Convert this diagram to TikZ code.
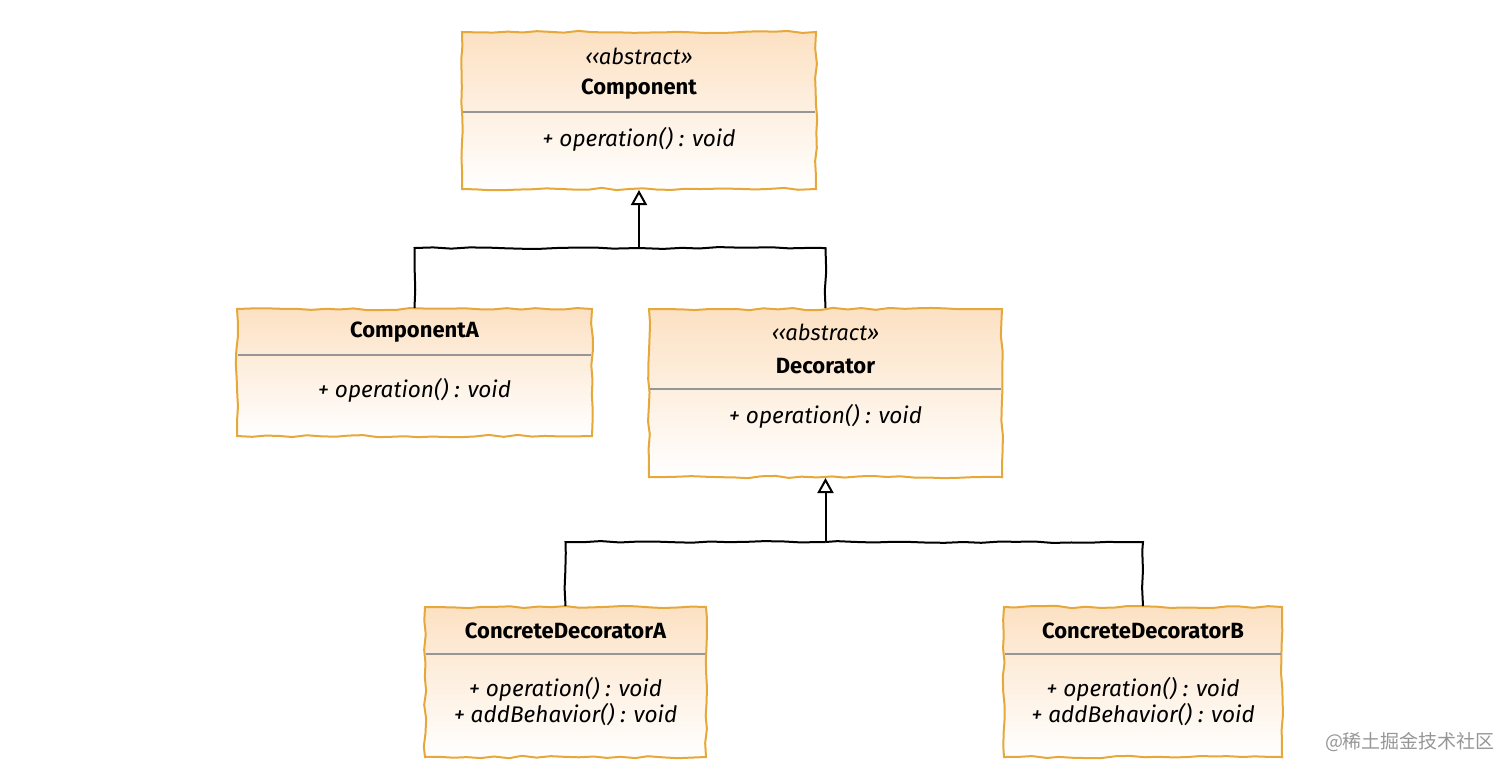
\documentclass[tikz,border=0pt]{standalone}
\usepackage{fontspec}
\setmainfont{Fira Sans}
\newfontfamily\cjkfont{Noto Sans CJK SC}
\usetikzlibrary{arrows.meta}
\usetikzlibrary{decorations.pathmorphing}
\usetikzlibrary{positioning}
\definecolor{clsborder}{RGB}{230,168,58}
\definecolor{clstop}{RGB}{252,225,195}
\definecolor{clsline}{RGB}{150,150,150}
\definecolor{wmgray}{RGB}{150,150,150}

\begin{document}
\begin{tikzpicture}[x=0.5pt,y=-0.5pt]
    \tikzset{ cls/.style ={draw=clsborder, line width=1pt, top color=clstop, bottom color=white, decorate, decoration={random steps, segment length=7pt, amplitude=0.6pt}} }
    \tikzset{ sep/.style ={draw=clsline, line width=0.6pt} }
    \tikzset{ stereo/.style={font=\fontsize{11pt}{13pt}\selectfont\itshape} }
    \tikzset{ cname/.style ={font=\fontsize{11pt}{13pt}\selectfont\bfseries} }
    \tikzset{ oper/.style ={font=\fontsize{11.3pt}{13pt}\selectfont\itshape, align=center} }
    \tikzset{ link/.style ={draw=black, line width=1pt, decorate, decoration={random steps, segment length=9pt, amplitude=0.5pt}} }
    \tikzset{ gen/.style ={draw=black, line width=1pt, -{Triangle[open, length=7.5pt, width=8pt]}} }

    \useasboundingbox (0,0) rectangle (1512,773);

    % class boxes
    \node[cls, minimum width=177pt,   minimum height=78.5pt] (comp)  at (639,110.5)  {};
    \node[cls, minimum width=177.5pt, minimum height=63.5pt] (compA) at (414.5,372.5) {};
    \node[cls, minimum width=176.5pt, minimum height=84pt]   (dec)   at (825.5,393)   {};
    \node[cls, minimum width=140.5pt, minimum height=75pt]   (cdA)   at (565.5,682)   {};
    \node[cls, minimum width=139pt,   minimum height=75pt]   (cdB)   at (1143,682)    {};

    % separators
    \draw[sep] (463,112) -- (815,112);
    \draw[sep] (238,355) -- (591,355);
    \draw[sep] (650,389) -- (1001,389);
    \draw[sep] (426,654) -- (705,654);
    \draw[sep] (1005,654) -- (1281,654);

    % texts
    \node[stereo] (comp_st)  at (639,56)   {‹‹abstract›{}›};
    \node[cname]  (comp_nm)  at (639,89)   {Component};
    \node[oper]   (comp_op)  at (639,139)  {+ operation() : void};

    \node[cname]  (compA_nm) at (414.5,332) {ComponentA};
    \node[oper]   (compA_op) at (414.5,390) {+ operation() : void};

    \node[stereo] (dec_st)   at (825.5,332) {‹‹abstract›{}›};
    \node[cname]  (dec_nm)   at (825.5,366) {Decorator};
    \node[oper]   (dec_op)   at (825.5,416) {+ operation() : void};

    \node[cname]  (cdA_nm)   at (565.5,631) {ConcreteDecoratorA};
    \node[oper]   (cdA_op)   at (565.5,702) {+ operation() : void\\+ addBehavior() : void};

    \node[cname]  (cdB_nm)   at (1143,631)  {ConcreteDecoratorB};
    \node[oper]   (cdB_op)   at (1143,702)  {+ operation() : void\\+ addBehavior() : void};

    % generalisations
    \coordinate (j1) at (639,248);
    \coordinate (j2) at (825.5,542);
    \draw[link] (compA.north) |- (j1);
    \draw[link] (dec.north)   |- (j1);
    \draw[gen]  (j1) -- (comp.south);
    \draw[link] (cdA.north) |- (j2);
    \draw[link] (cdB.north) |- (j2);
    \draw[gen]  (j2) -- (dec.south);

    \node[text=wmgray, font=\cjkfont\fontsize{9.5pt}{11pt}\selectfont] (wm) at (1410,742) {@稀土掘金技术社区};
\end{tikzpicture}
\end{document}
